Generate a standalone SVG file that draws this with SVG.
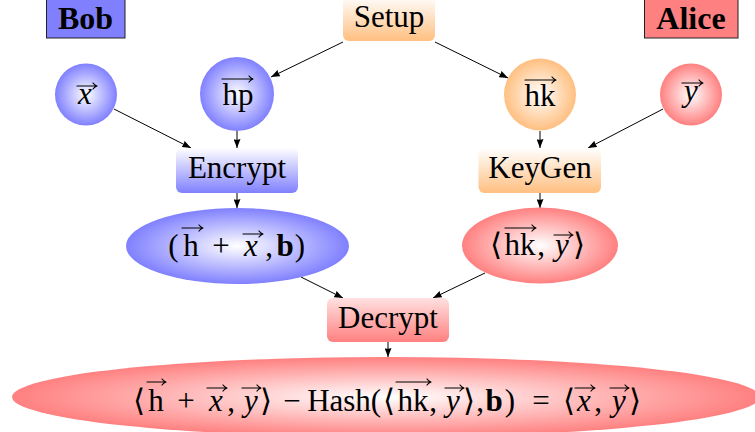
<svg xmlns="http://www.w3.org/2000/svg" width="755" height="432" viewBox="0 0 755 432">
<style>
text{font-family:"Liberation Serif","DejaVu Serif",serif;font-size:31px;fill:#000;text-anchor:middle}
.i{font-style:italic}
.b{font-weight:bold}
.tagt{font-weight:bold;font-size:32px}
.edge{stroke:#000;stroke-width:1;fill:none;marker-end:url(#ah)}
.vec{stroke:#000;stroke-width:1.2;fill:none;stroke-linecap:round}
.tag{stroke:#222;stroke-width:1}
</style>
<defs>
<radialGradient id="rB"><stop offset="0" stop-color="#fff"/><stop offset="1" stop-color="#8080ff"/></radialGradient>
<radialGradient id="rO"><stop offset="0" stop-color="#fff"/><stop offset="1" stop-color="#ffbf80"/></radialGradient>
<radialGradient id="rR"><stop offset="0" stop-color="#fff"/><stop offset="1" stop-color="#ff8080"/></radialGradient>
<linearGradient id="lB" x1="0" y1="0" x2="0" y2="1"><stop offset="0" stop-color="#fff"/><stop offset="1" stop-color="#8080ff"/></linearGradient>
<linearGradient id="lO" x1="0" y1="0" x2="0" y2="1"><stop offset="0" stop-color="#fff"/><stop offset="1" stop-color="#ffbf80"/></linearGradient>
<linearGradient id="lR" x1="0" y1="0" x2="0" y2="1"><stop offset="0" stop-color="#ffe0e0"/><stop offset="1" stop-color="#ff8080"/></linearGradient>
<marker id="ah" markerUnits="userSpaceOnUse" markerWidth="9" markerHeight="7" viewBox="0 0 9 7" refX="9" refY="3.5" orient="auto">
<path d="M0,0 L9,3.5 L0,7 Q1.5,3.5 0,0 z" fill="#000"/>
</marker>
</defs>

<g id="connectors">
<path class="edge" d="M343,42 L271,77"/>
<path class="edge" d="M435,42 L508,78"/>
<path class="edge" d="M114,109 L191,148"/>
<path class="edge" d="M237,131 L237,148"/>
<path class="edge" d="M663,109 L588,148"/>
<path class="edge" d="M540,131 L540,148"/>
<path class="edge" d="M237,193 L237,208"/>
<path class="edge" d="M540,193 L540,208"/>
<path class="edge" d="M301,277 L343,298"/>
<path class="edge" d="M485,273 L433,298"/>
<path class="edge" d="M388,342 L388,357"/>
</g>

<g id="bob">
<rect class="tag" x="46.5" y="-1" width="78.5" height="39" fill="#8080ff"/>
<text class="tagt" x="85.5" y="29">Bob</text>
</g>
<g id="alice">
<rect class="tag" x="644.5" y="-1" width="93.5" height="39" fill="#ff8080"/>
<text class="tagt" x="691" y="29">Alice</text>
</g>

<g id="setup">
<rect x="343" y="-4" width="92" height="45" rx="6" fill="url(#lO)"/>
<text x="389" y="27">Setup</text>
</g>

<g id="vx">
<circle cx="86" cy="94.5" r="31" fill="url(#rB)"/>
<text class="i" x="85" y="104">x</text>
<path class="vec" d="M77,86 H97 M93,83 Q95,85.5 97,86 Q95,86.5 93,89"/>
</g>
<g id="vhp">
<circle cx="237" cy="94" r="37" fill="url(#rB)"/>
<text x="238" y="105">hp</text>
<path class="vec" d="M222,79 H253 M249,76 Q251,78.5 253,79 Q251,79.5 249,82"/>
</g>
<g id="vhk">
<circle cx="540" cy="94.5" r="36" fill="url(#rO)"/>
<text x="540" y="106">hk</text>
<path class="vec" d="M525,80 H556 M552,77 Q554,79.5 556,80 Q554,80.5 552,83"/>
</g>
<g id="vy">
<circle cx="691" cy="94.5" r="31" fill="url(#rR)"/>
<text class="i" x="691" y="101">y</text>
<path class="vec" d="M682,83 H703 M699,80 Q701,82.5 703,83 Q701,83.5 699,86"/>
</g>

<g id="encrypt">
<rect x="176" y="148" width="122" height="45" rx="6" fill="url(#lB)"/>
<text x="237" y="178">Encrypt</text>
</g>
<g id="keygen">
<rect x="478.5" y="148" width="122.5" height="45" rx="6" fill="url(#lO)"/>
<text x="540" y="178">KeyGen</text>
</g>

<g id="cipher">
<ellipse cx="237.5" cy="246" rx="111.5" ry="38" fill="url(#rB)"/>
<text y="256"><tspan x="173.5">(</tspan><tspan x="191">h</tspan><tspan x="221">+</tspan><tspan x="251" class="i">x</tspan><tspan x="269">,</tspan><tspan x="285" class="b">b</tspan><tspan x="300">)</tspan></text>
<path class="vec" d="M182,228 H203 M199,225 Q201,227.5 203,228 Q201,228.5 199,231"/>
<path class="vec" d="M243,234 H263 M259,231 Q261,233.5 263,234 Q261,234.5 259,237"/>
</g>

<g id="key">
<ellipse cx="540" cy="245.5" rx="78" ry="38" fill="url(#rR)"/>
<text y="255"><tspan x="496">⟨</tspan><tspan x="520">hk</tspan><tspan x="541">,</tspan><tspan x="562" class="i">y</tspan><tspan x="579">⟩</tspan></text>
<path class="vec" d="M505,228 H536 M532,225 Q534,227.5 536,228 Q534,228.5 532,231"/>
<path class="vec" d="M554,235 H573 M569,232 Q571,234.5 573,235 Q571,235.5 569,238"/>
</g>

<g id="decrypt">
<rect x="327" y="298" width="122" height="44" rx="6" fill="url(#lR)"/>
<text x="388" y="328">Decrypt</text>
</g>

<g id="result">
<ellipse cx="386" cy="397" rx="374" ry="40" fill="url(#rR)"/>
<text y="411"><tspan x="139">⟨</tspan><tspan x="156">h</tspan><tspan x="186">+</tspan><tspan x="216" class="i">x</tspan><tspan x="231">,</tspan><tspan x="251" class="i">y</tspan><tspan x="266">⟩</tspan><tspan x="292">−</tspan><tspan x="339">Hash</tspan><tspan x="376">(</tspan><tspan x="389">⟨</tspan><tspan x="413">hk</tspan><tspan x="433">,</tspan><tspan x="453" class="i">y</tspan><tspan x="469">⟩</tspan><tspan x="480">,</tspan><tspan x="494" class="b">b</tspan><tspan x="510">)</tspan><tspan x="541">=</tspan><tspan x="569">⟨</tspan><tspan x="584" class="i">x</tspan><tspan x="598">,</tspan><tspan x="619" class="i">y</tspan><tspan x="635">⟩</tspan></text>
<path class="vec" d="M147,382 H166 M162,379 Q164,381.5 166,382 Q164,382.5 162,385"/>
<path class="vec" d="M207,388 H227 M223,385 Q225,387.5 227,388 Q225,388.5 223,391"/>
<path class="vec" d="M242,388 H261 M257,385 Q259,387.5 261,388 Q259,388.5 257,391"/>
<path class="vec" d="M396,382 H431 M427,379 Q429,381.5 431,382 Q429,382.5 427,385"/>
<path class="vec" d="M445,388 H464 M460,385 Q462,387.5 464,388 Q462,388.5 460,391"/>
<path class="vec" d="M575,388 H595 M591,385 Q593,387.5 595,388 Q593,388.5 591,391"/>
<path class="vec" d="M610,388 H629 M625,385 Q627,387.5 629,388 Q627,388.5 625,391"/>
</g>
</svg>
